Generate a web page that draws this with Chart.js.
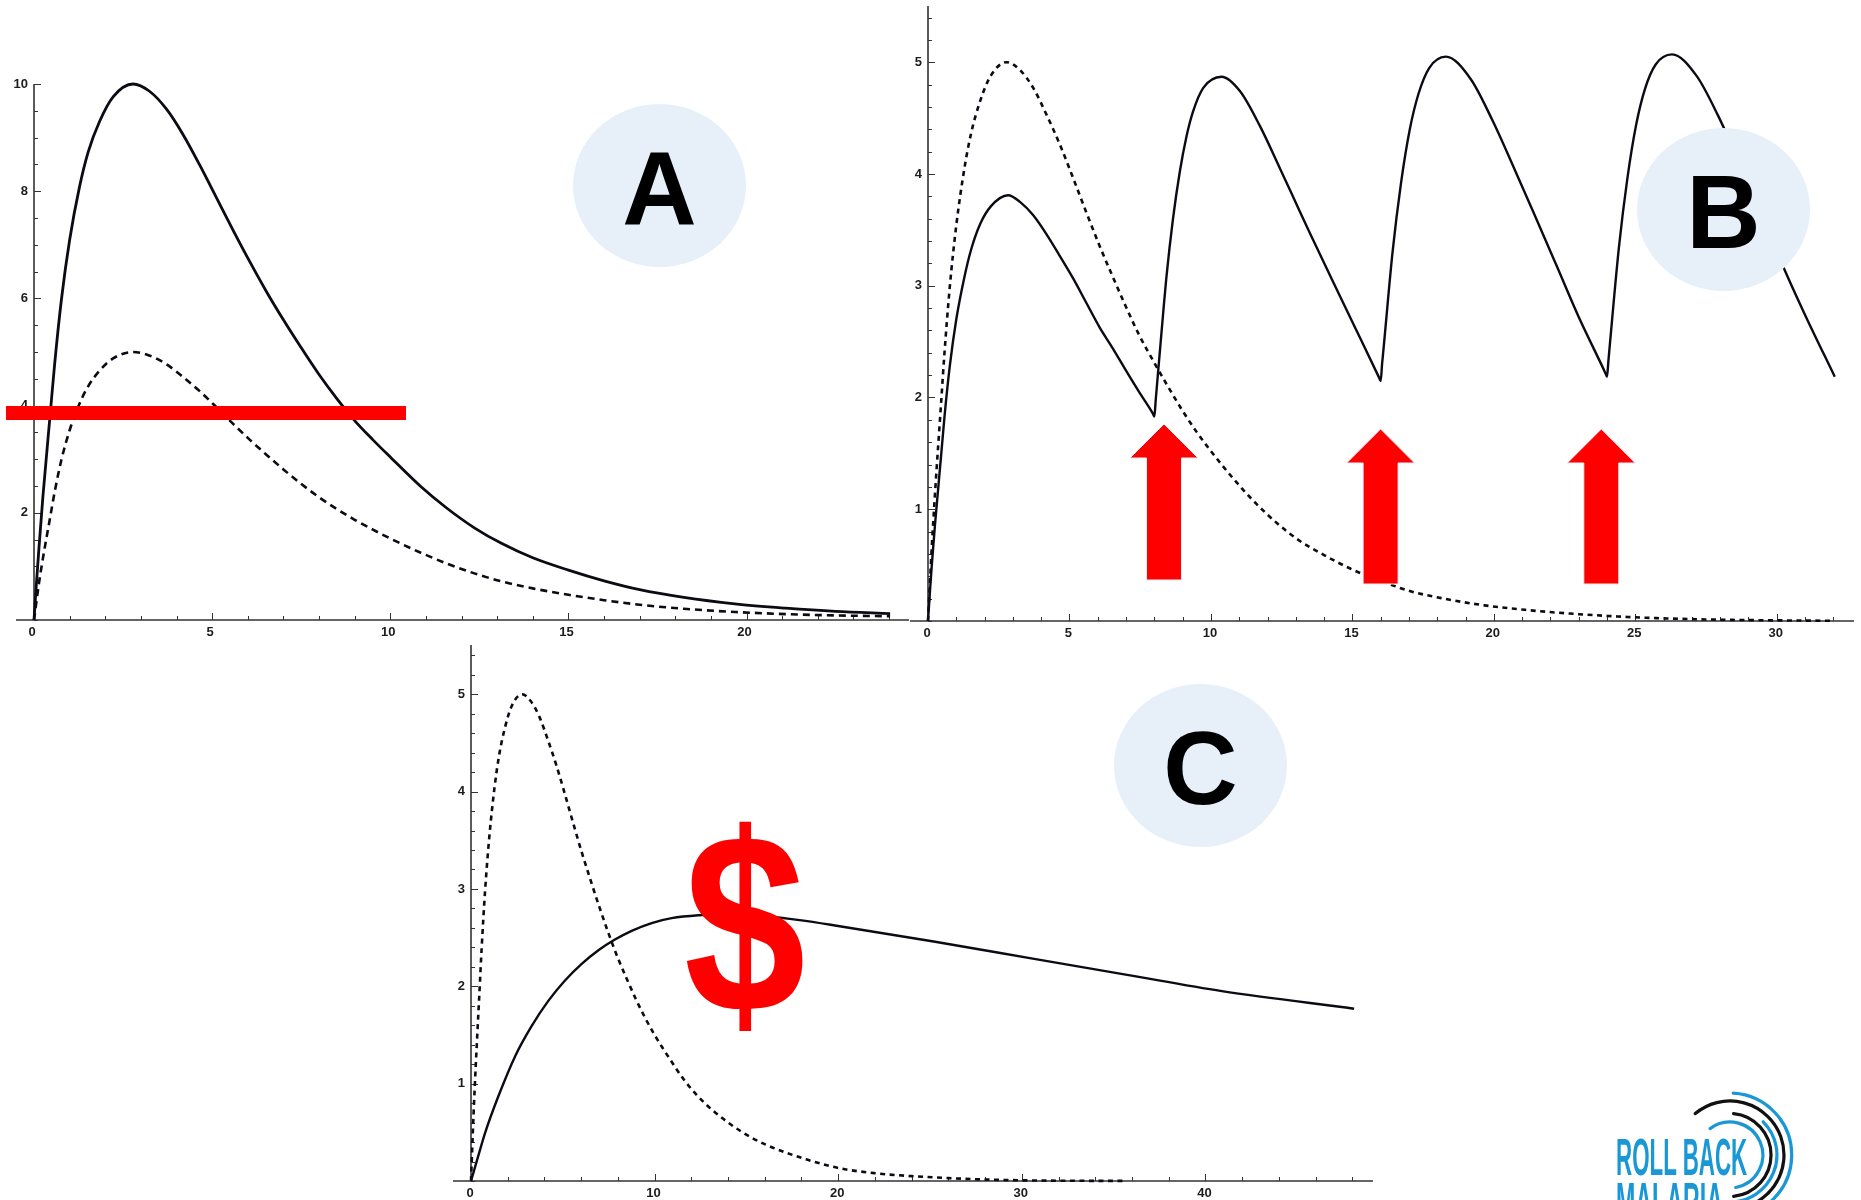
<!DOCTYPE html>
<html>
<head>
<meta charset="utf-8">
<script src="https://cdn.jsdelivr.net/npm/chart.js@4"></script>
<style>
html,body{margin:0;padding:0;background:#fff;width:1861px;height:1200px;overflow:hidden}
#stage{position:relative;width:1861px;height:1200px;overflow:hidden;background:#fff;font-family:"Liberation Sans",Arial,sans-serif}
canvas{position:absolute;display:block}
.badge{position:absolute;width:173px;height:163px;border-radius:50%;background:#e7f0f9;color:#000;font-weight:700;font-size:103px;line-height:170px;text-align:center}
.bar{position:absolute;background:#ff0000}
svg{position:absolute;left:0;top:0}
.dollar{position:absolute;left:678px;top:804px;color:#ff0000;font-weight:700;font-size:240px;line-height:240px;transform:scale(.91,1.066);transform-origin:66.7px 122px}
.logo{position:absolute;left:1616px;color:#1a98d5;font-weight:700;font-size:52px;line-height:52px;transform-origin:left top;white-space:nowrap}
</style>
</head>
<body>
<div id="stage">
<canvas id="chartA"></canvas>
<canvas id="chartB"></canvas>
<canvas id="chartC"></canvas>
<div class="bar" style="left:6px;top:406px;width:400px;height:14px"></div>
<div class="badge" style="left:573px;top:104px">A</div>
<div class="badge" style="left:1637px;top:128px">B</div>
<div class="badge" style="left:1114px;top:684px">C</div>
<svg width="1861" height="1200" id="shapes"></svg>
<div class="dollar">$</div>
<div class="logo" style="top:1131px;transform:scaleX(.43)">ROLL BACK</div>
<div class="logo" style="top:1175px;transform:scaleX(.446)">MALARIA</div>
</div>
<script>
// ---------- values ----------
const aSolidX = [0,0.07,0.14,0.25,0.46,0.58,0.77,1,1.28,1.52,1.84,2.22,2.78,3.25,3.72,4.19,4.65,5.12,5.59,6.06,6.53,7,7.46,8,8.5,9,9.5,10,10.84,11.6,12.36,13.12,14,15,16,17,18.24,19.67,21.1,22.5,24.03];
const aSolidY = [0,0.7,1.35,2.3,3.88,4.78,5.98,7.09,8.09,8.73,9.3,9.76,10,9.86,9.53,9.05,8.49,7.88,7.27,6.68,6.12,5.6,5.12,4.58,4.13,3.72,3.37,3.04,2.5,2.08,1.72,1.43,1.16,0.93,0.73,0.565,0.42,0.3,0.22,0.16,0.12];
const aDashX = [0,0.07,0.14,0.25,0.46,0.58,0.77,1,1.28,1.52,1.84,2.22,2.78,3.25,3.72,4.19,4.65,5.12,5.59,6.06,6.53,7,7.46,8,8.5,9,9.5,10,10.84,11.6,12.36,13.12,14,15,16,17,18.24,19.67,21.1,22.5,24.03];
const aDashY = [0,0.35,0.69,1.15,1.94,2.39,2.99,3.54,4.04,4.36,4.65,4.88,5,4.93,4.77,4.53,4.27,3.97,3.66,3.36,3.08,2.81,2.56,2.29,2.07,1.87,1.69,1.52,1.26,1.05,0.87,0.72,0.59,0.47,0.37,0.285,0.21,0.15,0.11,0.085,0.07];

const bSolidX = [0,0.07,0.14,0.25,0.46,0.58,0.77,1,1.28,1.52,1.84,2.22,2.83,3.25,3.72,4.19,4.65,5.12,5.59,6.06,6.53,7,7.46,7.94,8,8.05,8.13,8.3,8.42,8.66,8.9,9.14,9.37,9.73,10.38,11.03,11.73,12.44,13.15,13.5,14.27,15.03,15.94,16,16.05,16.11,16.42,16.72,17.03,17.34,17.72,18.3,19.18,19.95,20.7,21.48,22.25,23,23.94,24,24.05,24.11,24.42,24.72,25.03,25.34,25.72,26.3,27.16,27.93,28.68,29.46,30.23,30.98,32.05];
const bSolidY = [0,0.27,0.52,0.87,1.47,1.82,2.28,2.7,3.07,3.32,3.55,3.71,3.81,3.75,3.63,3.46,3.27,3.07,2.85,2.63,2.44,2.24,2.05,1.86,1.83,1.98,2.22,2.72,3.06,3.6,4.02,4.34,4.56,4.77,4.87,4.74,4.43,4.05,3.66,3.47,3.06,2.66,2.18,2.147,2.3,2.46,3.3,3.92,4.4,4.72,4.95,5.05,4.85,4.48,4.06,3.61,3.16,2.72,2.22,2.186,2.33,2.5,3.34,3.96,4.44,4.76,4.98,5.07,4.88,4.52,4.1,3.65,3.17,2.75,2.186];
const bDashX = [0,0.07,0.14,0.25,0.46,0.58,0.77,1,1.28,1.52,1.84,2.22,2.78,3.25,3.72,4.19,4.65,5.12,5.59,6.06,6.53,7,7.46,8,8.5,9,9.5,10,10.84,11.6,12.36,13.12,14,15,16,17,18.24,19.67,21.1,22.5,25,27.3,29,32];
const bDashY = [0,0.35,0.69,1.15,1.94,2.39,2.99,3.54,4.04,4.36,4.65,4.88,5,4.93,4.77,4.53,4.27,3.97,3.66,3.36,3.08,2.81,2.56,2.31,2.09,1.88,1.69,1.52,1.26,1.05,0.87,0.72,0.59,0.46,0.36,0.27,0.2,0.14,0.1,0.07,0.033,0.015,0.008,0.002];

const cSolidX = [0,0.4,0.76,1.49,2.4,3.3,4.21,5.12,6.03,6.94,7.84,8.75,9.84,10.93,12.38,14,16,17.9,20,25.2,30.44,35.66,40.9,48.1];
const cSolidY = [0,0.26,0.49,0.87,1.28,1.59,1.85,2.06,2.23,2.37,2.48,2.57,2.65,2.7,2.73,2.74,2.72,2.68,2.62,2.46,2.29,2.12,1.95,1.77];
const cDashX = [0,0.07,0.14,0.25,0.46,0.58,0.77,1,1.28,1.52,1.84,2.22,2.78,3.25,3.72,4.19,4.65,5.12,5.59,6.06,6.53,7,7.46,8,8.5,9,9.5,10,10.84,11.6,12.36,13.2,14.7,16.1,18.3,20.1,22,24,26,28,30,32,35.5];
const cDashY = [0,0.35,0.69,1.15,1.94,2.39,2.99,3.54,4.04,4.36,4.65,4.88,5,4.93,4.77,4.53,4.27,3.97,3.66,3.36,3.08,2.81,2.56,2.29,2.07,1.86,1.67,1.5,1.25,1.04,0.87,0.72,0.51,0.37,0.22,0.13,0.08,0.05,0.03,0.015,0.007,0.003,0.001];

const aXLabels = [0,5,10,15,20];
const aYLabels = [2,4,6,8,10];
const bXLabels = [0,5,10,15,20,25,30];
const bYLabels = [1,2,3,4,5];
const cXLabels = [0,10,20,30,40];
const cYLabels = [1,2,3,4,5];

// ---------- drawing ----------
const INK = '#0b0b14', AXIS = '#333333';

// inward (Mathematica style) tick marks and axis lines, positioned by the chart's scales
const inwardTicks = {
  id: 'inwardTicks',
  beforeDatasetsDraw(chart, args, o) {
    const {ctx, chartArea: a, scales: {x, y}} = chart;
    ctx.save();
    ctx.strokeStyle = AXIS;
    ctx.lineWidth = 1.6;
    ctx.beginPath();
    ctx.moveTo(a.left - o.leftExt, a.bottom); ctx.lineTo(a.right, a.bottom);
    ctx.moveTo(a.left, a.top); ctx.lineTo(a.left, a.bottom);
    ctx.stroke();
    ctx.lineWidth = 1;
    ctx.beginPath();
    x.ticks.forEach(t => {
      const p = Math.round(x.getPixelForValue(t.value)) + .5;
      const len = o.xMajor.includes(t.value) ? 7 : 4;
      ctx.moveTo(p, a.bottom); ctx.lineTo(p, a.bottom - len);
    });
    y.ticks.forEach(t => {
      const p = Math.round(y.getPixelForValue(t.value)) + .5;
      const len = o.yMajor.includes(t.value) ? 7 : 4;
      ctx.moveTo(a.left, p); ctx.lineTo(a.left + len, p);
    });
    ctx.stroke();
    ctx.restore();
  }
};

function pairs(xs, ys) { return xs.map((v, i) => ({x: v, y: ys[i]})); }

function stepTicks(last, step) {
  const out = [];
  for (let i = 0; i * step <= last + 1e-9; i++) out.push({value: +(i * step).toFixed(2)});
  return out;
}

function axis(labels, lastTick, minorStep, max, size, key, pad, shift) {
  return {
    type: 'linear', min: 0, max,
    position: key === 'x' ? 'bottom' : 'left',
    grid: {display: false, drawTicks: false, tickLength: 0},
    border: {display: false},
    afterBuildTicks(s) { s.ticks = stepTicks(lastTick, minorStep); },
    afterFit(s) { if (key === 'x') s.height = size; else s.width = size; },
    ticks: {
      autoSkip: false, maxRotation: 0, minRotation: 0, padding: pad, labelOffset: shift, color: '#1c1c1c',
      font: {family: '"Liberation Sans", Arial, sans-serif', size: 13, weight: 'bold'},
      callback: v => labels.includes(v) ? String(v) : ''
    }
  };
}

function makeChart(id, g) {
  const cv = document.getElementById(id);
  const padTop = 15, padRight = 6, below = 30;
  const top = g.top - padTop, w = g.right + padRight, h = padTop + (g.bottom - g.top) + below;
  cv.width = w; cv.height = h;
  cv.style.left = '0px'; cv.style.top = top + 'px';
  cv.style.width = w + 'px'; cv.style.height = h + 'px';
  return new Chart(cv, {
    type: 'line',
    data: {datasets: [
      {data: g.dash, borderColor: INK, borderWidth: 2.6, borderDash: g.dashPattern, pointRadius: 0, cubicInterpolationMode: 'monotone', clip: false},
      {data: g.solid, borderColor: INK, borderWidth: g.solidWidth, pointRadius: 0, cubicInterpolationMode: 'monotone', clip: false}
    ]},
    options: {
      responsive: false, animation: false, devicePixelRatio: 1,
      layout: {padding: {top: padTop, right: padRight, bottom: 0, left: 0}},
      plugins: {legend: {display: false}, title: {display: false}, tooltip: {enabled: false},
        inwardTicks: {leftExt: 18, xMajor: g.xLabels, yMajor: g.yLabels}},
      scales: {
        x: axis(g.xLabels, g.xLast, g.xMinor, g.xMax, below, 'x', 5, g.xShift),
        y: axis(g.yLabels, g.yLast, g.yMinor, g.yMax, g.left, 'y', 6, 0)
      }
    },
    plugins: [inwardTicks]
  });
}

makeChart('chartA', {left: 34, right: 909, top: 84, bottom: 620, xMax: 24.56, yMax: 10, xLast: 24, yLast: 10,
  xMinor: 1, yMinor: 0.5, xShift: -2, xLabels: aXLabels, yLabels: aYLabels, solidWidth: 2.8, dashPattern: [7, 5],
  solid: pairs(aSolidX, aSolidY), dash: pairs(aDashX, aDashY)});
makeChart('chartB', {left: 928, right: 1854, top: 6, bottom: 621, xMax: 32.73, yMax: 5.503, xLast: 32, yLast: 5.4,
  xMinor: 1, yMinor: 0.2, xShift: -1, xLabels: bXLabels, yLabels: bYLabels, solidWidth: 2.4, dashPattern: [5, 4.5],
  solid: pairs(bSolidX, bSolidY), dash: pairs(bDashX, bDashY)});
makeChart('chartC', {left: 471, right: 1373, top: 645, bottom: 1181, xMax: 49.13, yMax: 5.506, xLast: 48, yLast: 5.4,
  xMinor: 2, yMinor: 0.2, xShift: -1, xLabels: cXLabels, yLabels: cYLabels, solidWidth: 2.4, dashPattern: [5, 4.5],
  solid: pairs(cSolidX, cSolidY), dash: pairs(cDashX, cDashY)});

// ---------- annotations (arrows and logo arcs) ----------
const NS = 'http://www.w3.org/2000/svg';
const svg = document.getElementById('shapes');
function add(tag, attrs) {
  const el = document.createElementNS(NS, tag);
  for (const k in attrs) el.setAttribute(k, attrs[k]);
  svg.appendChild(el);
}
function arrow(cx, tip, base, bottom) {
  const pts = [[cx, tip], [cx + 34, base], [cx + 17.5, base], [cx + 17.5, bottom], [cx - 17.5, bottom], [cx - 17.5, base], [cx - 34, base]];
  add('polygon', {points: pts.map(p => p.join(',')).join(' '), fill: '#ff0000', stroke: '#e8eefa', 'stroke-width': 1});
}
arrow(1164, 424, 458, 580);
arrow(1380.6, 429, 463, 584);
arrow(1601.3, 429, 463, 584);

function arc(r, a0, a1, color) {
  const cx = 1730, cy = 1155, rad = d => d * Math.PI / 180;
  const p = d => (cx + r * Math.cos(rad(d))).toFixed(1) + ' ' + (cy + r * Math.sin(rad(d))).toFixed(1);
  add('path', {d: `M ${p(a0)} A ${r} ${r} 0 ${a1 - a0 > 180 ? 1 : 0} 1 ${p(a1)}`, fill: 'none', stroke: color, 'stroke-width': 3.2, 'stroke-linecap': 'round'});
}
arc(62, -87, 90, '#1a98d5');
arc(54, -130, 90, '#111111');
arc(47, -45, 90, '#1a98d5');
arc(41.5, -85, 85, '#111111');
arc(33, -127, 80, '#1a98d5');
</script>
</body>
</html>
